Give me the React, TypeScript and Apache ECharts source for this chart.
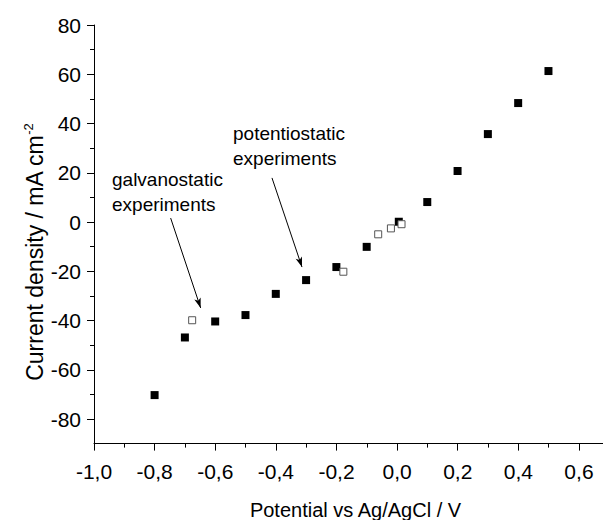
import React, { useEffect, useRef } from "react";
import * as echarts from "echarts";

// Potentiostatic experiments (filled squares)
const potX = [-0.8, -0.7, -0.6, -0.5, -0.4, -0.3, -0.2, -0.1, 0.006, 0.1, 0.2, 0.3, 0.4, 0.5];
const potY = [-70.3, -46.9, -40.4, -37.8, -29.2, -23.6, -18.3, -10.1, 0.1, 8.1, 20.7, 35.7, 48.3, 61.3];
// Galvanostatic experiments (open squares)
const galX = [-0.676, -0.177, -0.062, -0.02, 0.015];
const galY = [-39.9, -20.2, -5.0, -2.6, -0.9];

// Annotation arrows [startX, startY, endX, endY] in data units
const potArrow = [-0.4125, 17.9, -0.3135, -18.3];
const galArrow = [-0.747, 1.6, -0.648, -34.9];
const potText = "potentiostatic\nexperiments";
const galText = "galvanostatic\nexperiments";

const FONT = "'Liberation Sans', Arial, sans-serif";

export default function App() {
  const ref = useRef<HTMLDivElement>(null);
  useEffect(() => {
    if (!ref.current) return;
    const chart = echarts.init(ref.current, null, { renderer: "svg" });
    const fmtX = (v: number) => v.toFixed(1).replace(".", ",");
    const tickStyle = { color: "#000", width: 1 };
    chart.setOption({
      animation: false,
      backgroundColor: "#ffffff",
      textStyle: { fontFamily: FONT },
      grid: [
        // main plotting area
        { left: 94, right: 0, top: 25, bottom: 76.4, outerBoundsMode: "none", containLabel: false },
        // y ticks/labels area (-80 .. 80)
        { left: 94, right: 0, top: 25, bottom: 101, outerBoundsMode: "none", containLabel: false },
        // x ticks/labels area (-1.0 .. 0.6)
        { left: 94, right: 24.04, top: 25, bottom: 76.4, outerBoundsMode: "none", containLabel: false },
      ],
      xAxis: [
        {
          type: "value",
          gridIndex: 0,
          min: -1.0,
          max: 0.68,
          position: "bottom",
          name: "Potential vs Ag/AgCl / V",
          nameLocation: "middle",
          nameGap: 56,
          nameTextStyle: { fontSize: 20, color: "#000", fontFamily: FONT, padding: [0, 0, 0, 14] },
          axisLine: { show: true, onZero: false, lineStyle: { color: "#000", width: 1 } },
          axisTick: { show: false },
          axisLabel: { show: false },
          splitLine: { show: false },
        },
        {
          type: "value",
          gridIndex: 1,
          min: 1,
          max: 2,
          show: false,
        },
        {
          type: "value",
          gridIndex: 2,
          min: -1.0,
          max: 0.6,
          interval: 0.2,
          position: "bottom",
          axisLine: { show: false },
          axisTick: { show: true, length: 7, lineStyle: tickStyle },
          minorTick: { show: true, splitNumber: 2, length: 4, lineStyle: tickStyle },
          axisLabel: {
            formatter: fmtX,
            fontSize: 21,
            color: "#000",
            margin: 17,
            fontFamily: FONT,
          },
          splitLine: { show: false },
          minorSplitLine: { show: false },
        },
      ],
      yAxis: [
        {
          type: "value",
          gridIndex: 0,
          min: -90,
          max: 80,
          position: "left",
          name: "Current density / mA cm{sup|-2}",
          nameLocation: "middle",
          nameGap: 47,
          nameTextStyle: {
            fontSize: 23,
            color: "#000",
            fontFamily: FONT,
            padding: [0, 36, 0, 0],
            rich: {
              sup: { fontSize: 13, verticalAlign: "top", color: "#000", fontFamily: FONT, padding: [0, 0, 12, 0] },
            },
          },
          axisLine: { show: true, onZero: false, lineStyle: { color: "#000", width: 1 } },
          axisTick: { show: false },
          axisLabel: { show: false },
          splitLine: { show: false },
        },
        {
          type: "value",
          gridIndex: 1,
          min: -80,
          max: 80,
          interval: 20,
          position: "left",
          axisLine: { show: false },
          axisTick: { show: true, length: 7, lineStyle: tickStyle },
          minorTick: { show: true, splitNumber: 2, length: 4, lineStyle: tickStyle },
          axisLabel: {
            fontSize: 21,
            color: "#000",
            margin: 13,
            fontFamily: FONT,
          },
          splitLine: { show: false },
          minorSplitLine: { show: false },
        },
        {
          type: "value",
          gridIndex: 2,
          min: 1,
          max: 2,
          show: false,
        },
      ],
      graphic: [
        {
          type: "text",
          left: 233,
          top: 121,
          style: { text: potText, font: `19px ${FONT}`, fill: "#000", lineHeight: 25 },
        },
        {
          type: "text",
          left: 112,
          top: 167,
          style: { text: galText, font: `19px ${FONT}`, fill: "#000", lineHeight: 25 },
        },
      ],
      series: [
        {
          type: "scatter",
          xAxisIndex: 0,
          yAxisIndex: 0,
          symbol: "rect",
          symbolSize: 8,
          itemStyle: { color: "#000", opacity: 1 },
          data: potX.map((x, i) => [x, potY[i]]),
          markLine: {
            silent: true,
            animation: false,
            symbol: ["none", "arrow"],
            symbolSize: [5, 10],
            label: { show: false },
            lineStyle: { color: "#000", width: 1, type: "solid", opacity: 1 },
            data: [
              [
                { coord: [potArrow[0], potArrow[1]] },
                { coord: [potArrow[2], potArrow[3]] },
              ],
              [
                { coord: [galArrow[0], galArrow[1]] },
                { coord: [galArrow[2], galArrow[3]] },
              ],
            ],
          },
        },
        {
          type: "scatter",
          xAxisIndex: 0,
          yAxisIndex: 0,
          symbol: "rect",
          symbolSize: 7,
          itemStyle: { color: "#fff", borderColor: "#555", borderWidth: 1, opacity: 1 },
          data: galX.map((x, i) => [x, galY[i]]),
        },
      ],
    });
    return () => chart.dispose();
  }, []);
  return (
    <div
      ref={ref}
      style={{ position: "absolute", left: 0, top: 0, width: 603, height: 520, background: "#fff" }}
    />
  );
}
